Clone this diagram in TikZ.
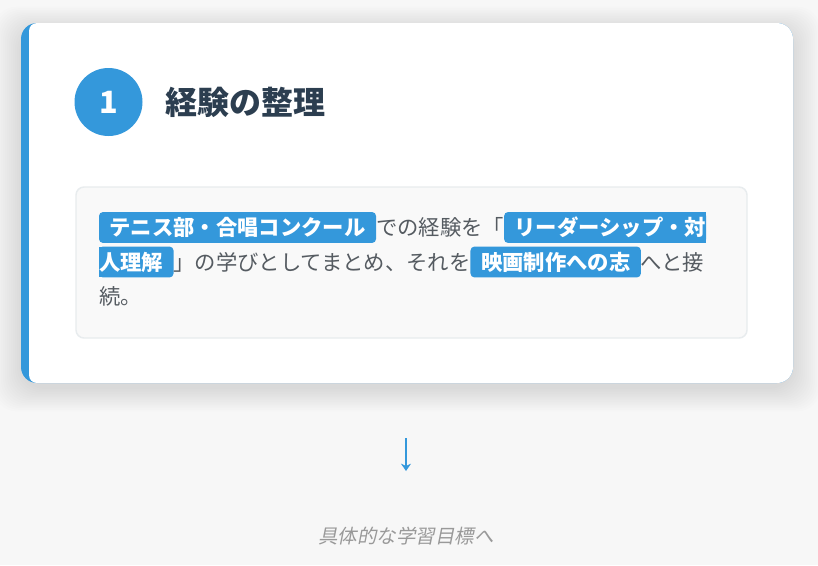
\documentclass[tikz,border=0pt]{standalone}
\usepackage{fontspec}
\setmainfont{Noto Sans CJK JP}
\newfontfamily\notefont[FakeSlant=0.2]{Noto Sans CJK JP}
\usetikzlibrary{positioning,arrows.meta}
\definecolor{pagebg}{HTML}{F7F7F7}
\definecolor{accent}{HTML}{3498DB}
\definecolor{ink}{HTML}{2C3E50}
\definecolor{bodytext}{HTML}{555B61}
\definecolor{boxfill}{HTML}{F9F9F9}
\definecolor{boxline}{HTML}{E8ECEE}
\definecolor{notegray}{HTML}{999999}
\pgfdeclarelayer{card}
\pgfdeclarelayer{marks}
\pgfsetlayers{card,marks,main}

\begin{document}
\begin{tikzpicture}[
    x = 0.75pt,
    y = -0.75pt,
    >={Stealth[length=5.5pt, width=7.5pt]},
    words/.style = {inner xsep=0pt, inner ysep=3.6pt, outer sep=0pt,
    text height=14.08pt, text depth=1.92pt, text=bodytext,
    font=\fontsize{16pt}{20pt}\selectfont},
    tagword/.style = {words, text=white,
    font=\fontsize{16pt}{20pt}\selectfont\bfseries},
    tagfill/.style = {fill=accent, rounded corners=3pt},
    haze/.style = {fill=black, opacity=0.008, rounded corners=18pt},
]
\useasboundingbox (0,0) rectangle (818,565);

\begin{pgfonlayer}{card}
    \fill[pagebg] (0,0) rectangle (818,565);
    % soft shadow under the card
    \foreach \d in {0,2,...,28}
        \fill[haze] (21-\d,29-0.8*\d) rectangle (793+\d,389+0.8*\d);
    \fill[accent, rounded corners=12pt] (21,23) rectangle (793,383);
    \begin{scope}
        \clip[rounded corners=12pt] (21,23) rectangle (793,383);
        \fill[white, rounded corners=6pt] (29,23) rectangle (820,383);
    \end{scope}
    \fill[boxfill, draw=boxline, line width=1.1pt, rounded corners=6pt]
    (76,187) rectangle (747,338);
\end{pgfonlayer}

\node[circle, fill=accent, minimum size=51pt, inner sep=0pt, text=white,
font=\fontsize{23pt}{24pt}\selectfont\bfseries] (num) at (108.5,102) {1};
\node[right=16.5pt of num, inner sep=0pt, text=ink,
font=\fontsize{24pt}{28pt}\selectfont\bfseries] (title) {経験の整理};

\node[tagword, inner xsep=7.9pt, anchor=west] (tag1) at (99,227.5) {テニス部・合唱コンクール};
\node[words, right=0pt of tag1] (line1) {での経験を「};
\node[tagword, right=0pt of line1] (tag2) {\hspace*{7.9pt}リーダーシップ・対};
\node[tagword, anchor=west] (tag2b) at (99,262) {人理解\hspace*{7.9pt}};
\node[words, right=0pt of tag2b] (line2) {」の学びとしてまとめ、それを};
\node[tagword, inner xsep=7.9pt, right=0pt of line2] (tag3) {映画制作への志};
\node[words, right=0pt of tag3] (line2b) {へと接};
\node[words, anchor=west] (line3) at (99,296) {続。};

\begin{pgfonlayer}{marks}
    \foreach \t in {tag1, tag2, tag2b, tag3}
        \fill[tagfill] (\t.south west) rectangle (\t.north east);
    \fill[accent] (tag2.south) rectangle (tag2.north east);
    \fill[accent] (tag2b.south west) rectangle (tag2b.north);
\end{pgfonlayer}

\coordinate (flowtop) at (406,438);
\coordinate (flowend) at (406,471);
\draw[->, accent, line width=1pt] (flowtop) -- (flowend);

\node[text=notegray, font=\notefont\fontsize{14.6pt}{18pt}\selectfont]
(next) at (406,536) {具体的な学習目標へ};
\end{tikzpicture}
\end{document}
